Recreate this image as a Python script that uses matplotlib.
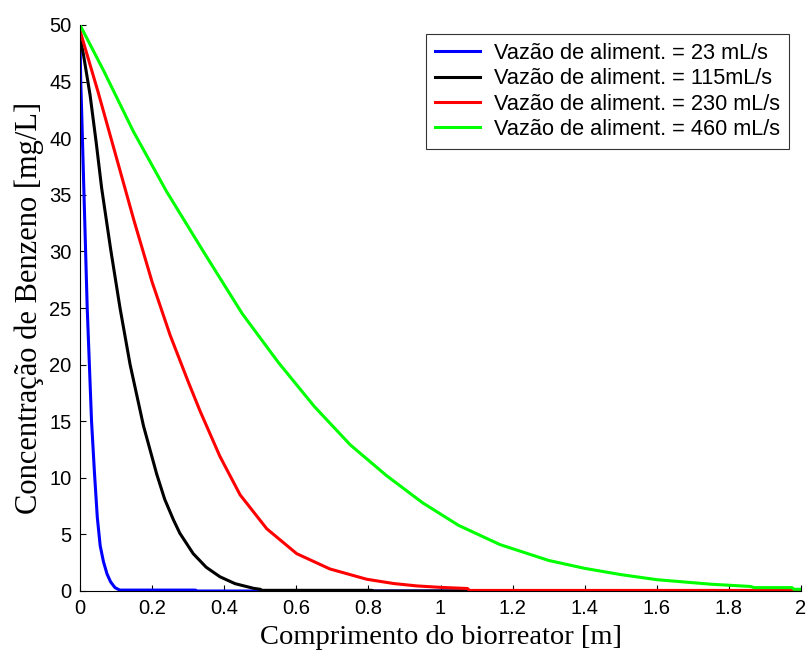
import matplotlib
matplotlib.use("Agg")
import matplotlib.pyplot as plt

# feed flow rates (legend labels)
labels = [
    "Vazão de aliment. = 23 mL/s",
    "Vazão de aliment. = 115mL/s",
    "Vazão de aliment. = 230 mL/s",
    "Vazão de aliment. = 460 mL/s",
]
colors = ["#0000ff", "#000000", "#ff0000", "#00ff00"]

# benzene concentration profiles, x in m, y in mg/L
x_23 = [0, 0.002, 0.004, 0.008, 0.012, 0.016, 0.020, 0.026, 0.032, 0.040,
        0.048, 0.056, 0.065, 0.075, 0.085, 0.097, 0.11, 0.32, 0.325, 2.0]
y_23 = [49, 45, 43, 38.5, 34, 29.5, 25, 20, 15, 10.5,
        6.5, 4.0, 2.6, 1.5, 0.8, 0.3, 0.08, 0.08, 0.0, 0.0]

x_115 = [0, 0.01, 0.028, 0.045, 0.06, 0.085, 0.111, 0.139, 0.176, 0.213,
         0.235, 0.259, 0.277, 0.314, 0.35, 0.388, 0.43, 0.481, 0.50, 0.505,
         0.81, 0.815, 2.0]
y_115 = [49, 47.3, 43.8, 39.6, 35.6, 30.2, 25.0, 20.0, 14.6, 10.3,
         8.1, 6.3, 5.1, 3.3, 2.1, 1.26, 0.65, 0.24, 0.15, 0.06,
         0.06, 0.0, 0.0]

x_230 = [0, 0.05, 0.1, 0.15, 0.2, 0.25, 0.3, 0.333, 0.388, 0.444,
         0.518, 0.601, 0.693, 0.795, 0.87, 0.934, 1.0, 1.075, 1.08, 2.0]
y_230 = [49.5, 44.1, 38.4, 32.7, 27.3, 22.6, 18.5, 15.9, 11.9, 8.5,
         5.5, 3.3, 1.95, 1.04, 0.66, 0.45, 0.32, 0.22, 0.05, 0.05]

x_460 = [0, 0.065, 0.148, 0.24, 0.342, 0.45, 0.55, 0.65, 0.75, 0.85,
         0.95, 1.05, 1.165, 1.3, 1.4, 1.5, 1.6, 1.75, 1.86, 1.87,
         1.975, 1.98, 2.0]
y_460 = [50, 46, 40.6, 35.3, 30.0, 24.5, 20.2, 16.3, 12.9, 10.2,
         7.8, 5.8, 4.1, 2.7, 2.0, 1.45, 1.0, 0.6, 0.4, 0.3,
         0.3, 0.15, 0.15]

series = [(x_23, y_23), (x_115, y_115), (x_230, y_230), (x_460, y_460)]

x_ticks = [0, 0.2, 0.4, 0.6, 0.8, 1.0, 1.2, 1.4, 1.6, 1.8, 2.0]
x_ticklabels = ["0", "0.2", "0.4", "0.6", "0.8", "1", "1.2", "1.4", "1.6", "1.8", "2"]
y_ticks = [0, 5, 10, 15, 20, 25, 30, 35, 40, 45, 50]

SANS = ["Liberation Sans", "DejaVu Sans"]
SERIF = ["Liberation Serif", "DejaVu Serif"]

fig = plt.figure(figsize=(8.1, 6.59), dpi=100)
ax = fig.add_axes([80 / 810, 68 / 659, 721 / 810, 566 / 659])

for (xs, ys), c, lab in zip(series, colors, labels):
    ax.plot(xs, ys, color=c, linewidth=2.2, label=lab)

ax.set_xlim(0, 2)
ax.set_ylim(0, 50)
ax.set_xticks(x_ticks)
ax.set_xticklabels(x_ticklabels, family=SANS, fontsize=14.5)
ax.set_yticks(y_ticks)
ax.set_yticklabels([str(v) for v in y_ticks], family=SANS, fontsize=14.5)
ax.tick_params(direction="in", length=4, width=0.8, pad=6)
ax.spines["top"].set_visible(False)
ax.spines["right"].set_visible(False)

ax.set_xlabel("Comprimento do biorreator [m]", family=SERIF, fontsize=20.5, labelpad=5)
ax.set_ylabel("Concentração de Benzeno [mg/L]", family=SERIF, fontsize=22, labelpad=4)

leg = ax.legend(
    loc="upper right",
    bbox_to_anchor=(0.983, 0.984),
    borderaxespad=0,
    prop={"family": SANS, "size": 15.7},
    frameon=True,
    fancybox=False,
    handlelength=2.05,
    handletextpad=0.65,
    labelspacing=0.2,
    borderpad=0.4,
)
leg.get_frame().set_edgecolor("black")
leg.get_frame().set_linewidth(0.8)

fig.savefig("out.png", dpi=100, facecolor="white")
